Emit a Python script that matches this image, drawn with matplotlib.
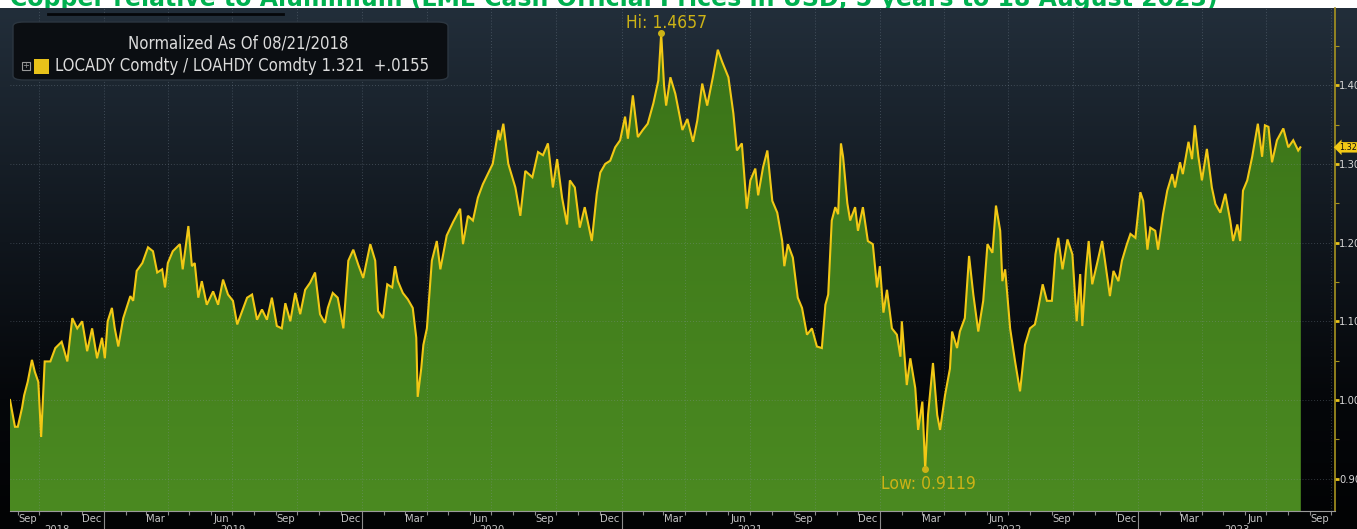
"""Copper vs aluminium LME cash price ratio, Bloomberg-style area chart."""

import matplotlib

matplotlib.use("Agg")
import matplotlib.pyplot as plt
import matplotlib.dates as mdates
import numpy as np
import pandas as pd
from matplotlib.colors import LinearSegmentedColormap
from matplotlib.patches import FancyBboxPatch, Rectangle
from matplotlib.transforms import blended_transform_factory

TITLE = "Copper relative to Aluminium (LME Cash Official Prices in USD, 5 years to 18 August 2023)"
LEGEND_HEAD = "Normalized As Of 08/21/2018"
LEGEND_LINE = "LOCADY Comdty / LOAHDY Comdty 1.321  +.0155"
START = "2018-08-21"

# days since START
days = [
    0, 7, 11, 17, 20, 25, 31, 35, 40, 44, 49, 57, 64, 73, 81, 88, 95, 102, 109, 116,
    123, 130, 134, 138, 144, 148, 153, 160, 170, 174, 179, 187, 195, 202, 208, 215, 219, 223, 230, 240,
    244, 252, 257, 261, 266, 271, 278, 287, 294, 301, 308, 315, 321, 328, 335, 342, 349, 356, 363, 370,
    377, 384, 389, 396, 403, 410, 417, 424, 431, 438, 445, 449, 456, 463, 471, 478, 485, 492, 499, 509,
    516, 520, 527, 533, 540, 544, 548, 555, 562, 569, 574, 576, 581, 584, 589, 596, 603, 608, 617, 626,
    636, 640, 647, 654, 661, 668, 675, 682, 690, 692, 697, 704, 714, 721, 728, 738, 746, 753, 760, 767,
    773, 780, 787, 791, 798, 805, 812, 822, 829, 834, 841, 848, 855, 862, 869, 873, 880, 887, 894, 901,
    909, 916, 920, 924, 927, 933, 940, 950, 957, 965, 971, 978, 985, 993, 1000, 1006, 1015, 1022, 1027, 1034,
    1041, 1046, 1053, 1057, 1064, 1070, 1077, 1084, 1091, 1094, 1099, 1106, 1113, 1119, 1126, 1133, 1140, 1147, 1152, 1156,
    1161, 1166, 1170, 1174, 1177, 1183, 1187, 1194, 1198, 1205, 1212, 1219, 1225, 1229, 1234, 1239, 1246, 1253, 1258, 1260,
    1267, 1272, 1279, 1283, 1289, 1293, 1297, 1304, 1310, 1314, 1321, 1328, 1331, 1338, 1342, 1349, 1355, 1361, 1368, 1375,
    1381, 1388, 1393, 1399, 1402, 1406, 1413, 1420, 1427, 1434, 1441, 1448, 1452, 1459, 1465, 1472, 1477, 1481, 1487, 1494,
    1501, 1507, 1512, 1515, 1520, 1524, 1529, 1536, 1543, 1547, 1554, 1559, 1566, 1571, 1578, 1583, 1590, 1597, 1601, 1607,
    1611, 1618, 1622, 1629, 1635, 1642, 1646, 1653, 1657, 1665, 1670, 1674, 1679, 1684, 1691, 1698, 1703, 1710, 1717, 1724,
    1728, 1734, 1738, 1742, 1748, 1755, 1763, 1769, 1773, 1778, 1783, 1790, 1799, 1806, 1813, 1820, 1823,
]
ratio = [
    1.00, 0.966, 0.966, 0.99, 1.006, 1.023, 1.051, 1.036, 1.023, 0.953, 1.049, 1.049, 1.066, 1.074, 1.049, 1.104, 1.091, 1.10, 1.062, 1.091,
    1.053, 1.079, 1.053, 1.10, 1.117, 1.091, 1.068, 1.104, 1.132, 1.126, 1.164, 1.174, 1.194, 1.189, 1.162, 1.166, 1.143, 1.174, 1.189, 1.198,
    1.166, 1.221, 1.170, 1.174, 1.130, 1.151, 1.121, 1.138, 1.121, 1.153, 1.134, 1.126, 1.096, 1.113, 1.130, 1.134, 1.102, 1.115, 1.102, 1.130,
    1.094, 1.091, 1.123, 1.10, 1.136, 1.109, 1.140, 1.149, 1.162, 1.109, 1.098, 1.117, 1.136, 1.130, 1.091, 1.177, 1.191, 1.172, 1.155, 1.198,
    1.177, 1.113, 1.104, 1.147, 1.143, 1.170, 1.151, 1.136, 1.128, 1.117, 1.079, 1.004, 1.040, 1.070, 1.091, 1.177, 1.202, 1.166, 1.209, 1.226,
    1.243, 1.198, 1.234, 1.228, 1.257, 1.274, 1.287, 1.30, 1.343, 1.33, 1.351, 1.30, 1.27, 1.234, 1.291, 1.283, 1.315, 1.311, 1.326, 1.270,
    1.306, 1.257, 1.223, 1.279, 1.270, 1.219, 1.245, 1.202, 1.262, 1.289, 1.30, 1.304, 1.321, 1.330, 1.36, 1.332, 1.387, 1.334, 1.343, 1.351,
    1.377, 1.406, 1.4657, 1.40, 1.374, 1.41, 1.389, 1.343, 1.357, 1.328, 1.355, 1.402, 1.374, 1.41, 1.445, 1.43, 1.41, 1.364, 1.317, 1.326,
    1.243, 1.279, 1.294, 1.26, 1.296, 1.317, 1.253, 1.238, 1.202, 1.170, 1.198, 1.181, 1.130, 1.117, 1.083, 1.091, 1.068, 1.066, 1.121, 1.134,
    1.228, 1.245, 1.236, 1.326, 1.309, 1.25, 1.228, 1.245, 1.215, 1.245, 1.202, 1.198, 1.143, 1.170, 1.111, 1.140, 1.091, 1.083, 1.055, 1.10,
    1.019, 1.053, 1.015, 0.962, 0.998, 0.9119, 0.981, 1.047, 0.981, 0.962, 1.006, 1.04, 1.087, 1.066, 1.087, 1.104, 1.183, 1.134, 1.087, 1.126,
    1.198, 1.187, 1.247, 1.215, 1.151, 1.166, 1.091, 1.049, 1.011, 1.07, 1.091, 1.096, 1.113, 1.147, 1.126, 1.126, 1.185, 1.206, 1.166, 1.204,
    1.185, 1.10, 1.160, 1.094, 1.164, 1.202, 1.147, 1.174, 1.202, 1.177, 1.132, 1.164, 1.151, 1.177, 1.198, 1.211, 1.206, 1.264, 1.253, 1.191,
    1.219, 1.215, 1.191, 1.236, 1.266, 1.287, 1.270, 1.302, 1.287, 1.328, 1.306, 1.349, 1.309, 1.279, 1.319, 1.270, 1.249, 1.238, 1.262, 1.228,
    1.202, 1.223, 1.202, 1.266, 1.279, 1.309, 1.351, 1.309, 1.349, 1.347, 1.302, 1.330, 1.345, 1.321, 1.330, 1.317, 1.321,
]
y_ticks = [0.90, 1.00, 1.10, 1.20, 1.30, 1.40]
month_labels = ["Mar", "Jun", "Sep", "Dec"]
years = [2018, 2019, 2020, 2021, 2022, 2023]

FONT = dict(family="DejaVu Sans", stretch="condensed")
W, H = 1357, 529

dates = pd.Timestamp(START) + pd.to_timedelta(days, unit="D")
values = np.array(ratio)
x_min = pd.Timestamp(START)
x_max = x_min + pd.Timedelta(days=1872)
y_lo, y_hi = 0.859, 1.498

fig = plt.figure(figsize=(W / 100, H / 100), dpi=100, facecolor="white")

# title sits mostly above the canvas, only its lower part shows
fig.text(10 / W, 1 - 6 / H, TITLE, color="#00b050", fontsize=17, fontweight="bold",
         ha="left", va="baseline", zorder=-5)

# dark gradient panel behind everything
bg = fig.add_axes([0, 0, 1, (H - 8) / H], zorder=0)
bg_cmap = LinearSegmentedColormap.from_list(
    "bb", [(0, "#020304"), (0.25, "#05070a"), (0.55, "#10161d"), (1, "#222e3a")])
bg.imshow(np.linspace(0, 1, 256).reshape(-1, 1), cmap=bg_cmap, aspect="auto",
          origin="lower", extent=[0, 1, 0, 1])
bg.set_axis_off()

ax = fig.add_axes([10 / W, 18 / H, 1325 / W, 503 / H], zorder=1)
ax.set_facecolor("none")

# area with a slight vertical shade, clipped to the series outline
area = ax.fill_between(dates, values, y_lo, color="#427c1c", lw=0, zorder=2)
fill_cmap = LinearSegmentedColormap.from_list("gr", ["#4b8a21", "#3a7318"])
shade = ax.imshow(np.linspace(0, 1, 256).reshape(-1, 1), cmap=fill_cmap, aspect="auto",
                  origin="lower", zorder=2.1,
                  extent=[mdates.date2num(x_min), mdates.date2num(x_max), y_lo, 1.47])
shade.set_clip_path(area.get_paths()[0], transform=ax.transData)
ax.set_xlim(x_min, x_max)
ax.set_ylim(y_lo, y_hi)
ax.plot(dates, values, color="#f2c815", lw=1.5, zorder=4, solid_joinstyle="miter")

# dotted grid, quarterly verticals
for q in pd.date_range("2018-10-01", x_max, freq="QS-JAN"):
    ax.axvline(q, color="#8a98a8", lw=0.6, ls=(0, (1, 2.5)), alpha=0.45, zorder=3)
for yv in y_ticks:
    ax.axhline(yv, color="#8a98a8", lw=0.6, ls=(0, (1, 2.5)), alpha=0.45, zorder=3)

for side in ["top", "left"]:
    ax.spines[side].set_visible(False)
ax.spines["right"].set_color("#a89420")
ax.spines["right"].set_linewidth(1.2)
ax.spines["bottom"].set_color("#9a9a9a")
ax.spines["bottom"].set_linewidth(0.8)

# right axis
ax.yaxis.tick_right()
ax.set_yticks(y_ticks)
ax.set_yticklabels([f"{v:.2f}" for v in y_ticks])
ax.set_yticks(np.arange(0.95, 1.5, 0.1), minor=True)
ax.tick_params(axis="y", which="major", length=3, width=2, color="#e8c21a",
               labelcolor="#d6d6d6", labelsize=8, pad=0)
ax.tick_params(axis="y", which="minor", length=3, width=0.8, color="#a89420")
for lab in ax.get_yticklabels():
    lab.set(**FONT)

# bottom axis: month ticks, year separators, text labels
ax.xaxis.set_major_locator(mdates.YearLocator())
ax.xaxis.set_minor_locator(mdates.MonthLocator())
ax.xaxis.set_major_formatter(plt.NullFormatter())
ax.tick_params(axis="x", which="major", length=18, width=0.8, color="#8a8a8a")
ax.tick_params(axis="x", which="minor", length=3, width=0.8, color="#8a8a8a")

trans = blended_transform_factory(ax.transData, ax.transAxes)
for yr in years:
    for i, mon in enumerate([3, 6, 9, 12]):
        d = pd.Timestamp(yr, mon, 15)
        if x_min <= d <= x_max:
            ax.text(d, -8 / 503, month_labels[i], transform=trans, ha="center", va="center",
                    color="#c4c4c4", fontsize=8, clip_on=False, **FONT)
    lo = max(pd.Timestamp(yr, 1, 1), x_min)
    hi = min(pd.Timestamp(yr, 12, 31), x_max)
    mid = lo + (hi - lo) / 2
    ax.text(mid, -19 / 503, str(yr), transform=trans, ha="center", va="center",
            color="#c4c4c4", fontsize=8, clip_on=False, **FONT)

# hi / low annotations
i_hi = int(np.argmax(values))
i_lo = int(np.argmin(values))
hl_color = "#cdb316"
ax.plot(dates[i_hi], values[i_hi], "o", ms=4, color=hl_color, zorder=5)
ax.plot(dates[i_lo], values[i_lo], "o", ms=4, color=hl_color, zorder=5)
ax.annotate(f"Hi: {values[i_hi]:.4f}", (dates[i_hi], values[i_hi]), xytext=(4, 1),
            textcoords="offset points", ha="center", va="bottom", color=hl_color,
            fontsize=12.5, zorder=6, **FONT)
ax.annotate(f"Low: {values[i_lo]:.4f}", (dates[i_lo], values[i_lo]), xytext=(2, -4),
            textcoords="offset points", ha="center", va="top", color=hl_color,
            fontsize=12.5, zorder=6, **FONT)

# last value tag on the right axis
ax.annotate(f"{values[-1]:.2f}", xy=(1.0, values[-1]), xycoords=("axes fraction", "data"),
            xytext=(3, 0), textcoords="offset points", ha="left", va="center",
            fontsize=6.5, color="#111111", annotation_clip=False,
            bbox=dict(boxstyle="larrow,pad=0.08", fc="#f2c815", ec="none"), zorder=7, **FONT)

# legend box
fig.add_artist(FancyBboxPatch((13 / W, 1 - 80 / H), 435 / W, 58 / H,
                              boxstyle="round,pad=0,rounding_size=0.008",
                              fc="#0b0e12", ec="#2c3640", lw=1, transform=fig.transFigure,
                              zorder=8))
fig.add_artist(plt.Line2D([48 / W, 283 / W], [1 - 14 / H, 1 - 14 / H], color="#05070a",
                          lw=2, transform=fig.transFigure, zorder=8))
fig.text(238 / W, 1 - 44 / H, LEGEND_HEAD, color="#dcdcdc", fontsize=12,
         ha="center", va="center", zorder=9, **FONT)
fig.add_artist(Rectangle((22 / W, 1 - 70 / H), 8 / W, 8 / H, fc="none", ec="#9a9a9a",
                         lw=0.8, transform=fig.transFigure, zorder=9))
fig.text(26 / W, 1 - 66 / H, "+", color="#9a9a9a", fontsize=6, ha="center", va="center",
         zorder=9)
fig.add_artist(Rectangle((34 / W, 1 - 74 / H), 15 / W, 15 / H, fc="#e8c21a", ec="none",
                         transform=fig.transFigure, zorder=9))
fig.text(55 / W, 1 - 66 / H, LEGEND_LINE, color="#dcdcdc", fontsize=12,
         ha="left", va="center", zorder=9, **FONT)

fig.savefig("out.png", dpi=100, facecolor="white")
